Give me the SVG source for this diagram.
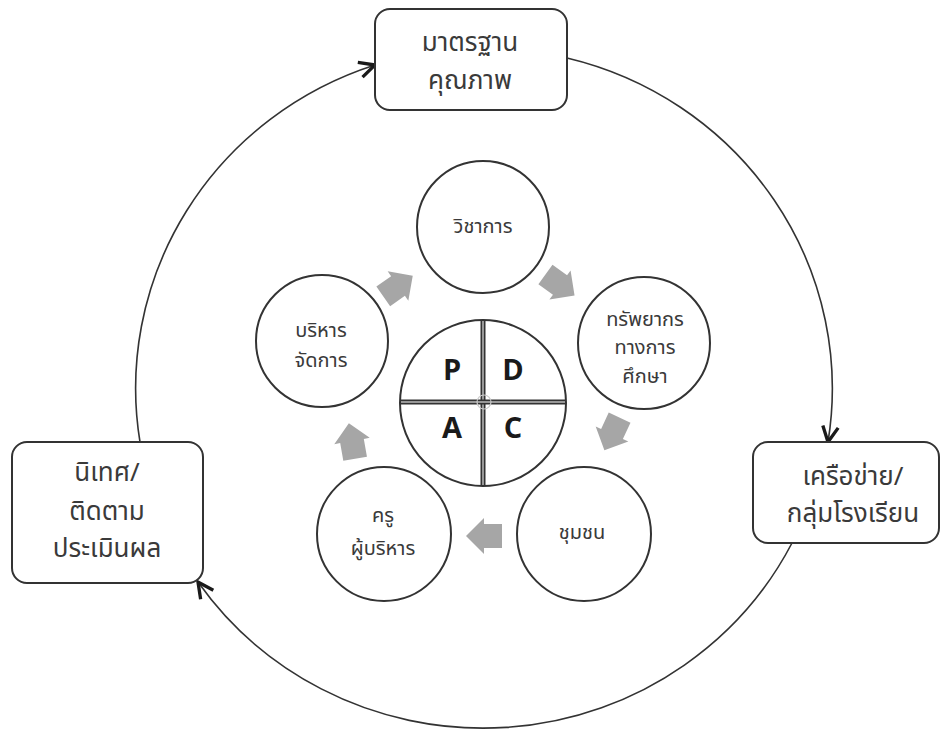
<svg xmlns="http://www.w3.org/2000/svg" width="940" height="731" viewBox="0 0 940 731">
<style>
.box{fill:#fff;stroke:#333;stroke-width:2}
.circ{fill:#fff;stroke:#333;stroke-width:2}
.big{font-family:"Noto Sans Thai","Noto Sans Thai Looped","Noto Sans","DejaVu Sans",sans-serif;font-size:26px;fill:#3a3a3a;text-anchor:middle}
.sm{font-family:"Noto Sans Thai","Noto Sans Thai Looped","Noto Sans","DejaVu Sans",sans-serif;font-size:20px;fill:#3a3a3a;text-anchor:middle}
.pdca{font-family:"Open Sans","Liberation Sans",sans-serif;font-weight:700;font-size:29px;fill:#1a1a1a;text-anchor:middle}
.conn{fill:none;stroke:#333;stroke-width:1.6}
.blk{fill:#a6a6a6}
</style>
<defs>
<marker id="ah" markerUnits="userSpaceOnUse" markerWidth="20" markerHeight="20" viewBox="-1 -1 18 18" refX="15" refY="8" orient="auto">
<path d="M1,1 L15,8 L1,15" fill="none" stroke="#1a1a1a" stroke-width="3"/>
</marker>
<polygon id="blk" class="blk" points="-18,-12 0,-12 0,-18 18,0 0,18 0,12 -18,12"/>
</defs>
<g id="connectors">
<path class="conn" d="M140,442 A347,340 0 0 1 375,65" marker-end="url(#ah)"/>
<path class="conn" d="M567,58 A347,340 0 0 1 828,442" marker-end="url(#ah)"/>
<path class="conn" d="M792,543 A347,340 0 0 1 198,582" marker-end="url(#ah)"/>
</g>
<g id="node-standard">
<rect class="box" x="375" y="9" width="192" height="101" rx="15"/>
<text class="big" x="470" y="51">มาตรฐาน</text>
<text class="big" x="470" y="89">คุณภาพ</text>
</g>
<g id="node-network">
<rect class="box" x="753" y="442" width="186" height="101" rx="15"/>
<text class="big" x="853" y="485">เครือข่าย/</text>
<text class="big" x="853" y="522">กลุ่มโรงเรียน</text>
</g>
<g id="node-supervise">
<rect class="box" x="12" y="442" width="191" height="141" rx="15"/>
<text class="big" x="107" y="481">นิเทศ/</text>
<text class="big" x="107" y="520">ติดตาม</text>
<text class="big" x="107" y="557">ประเมินผล</text>
</g>
<g id="flow-arrows">
<use href="#blk" transform="translate(398,286) rotate(-35)"/>
<use href="#blk" transform="translate(560,285) rotate(36)"/>
<use href="#blk" transform="translate(612,434) rotate(115)"/>
<use href="#blk" transform="translate(484,536) rotate(180)"/>
<use href="#blk" transform="translate(352,441) rotate(-100)"/>
</g>
<g id="node-academic">
<circle class="circ" cx="483" cy="227" r="66"/>
<text class="sm" x="483" y="233">วิชาการ</text>
</g>
<g id="node-resources">
<circle class="circ" cx="644" cy="343" r="66"/>
<text class="sm" x="645" y="326">ทรัพยากร</text>
<text class="sm" x="645" y="354">ทางการ</text>
<text class="sm" x="645" y="383">ศึกษา</text>
</g>
<g id="node-community">
<circle class="circ" cx="584" cy="534" r="67"/>
<text class="sm" x="582" y="539">ชุมชน</text>
</g>
<g id="node-teachers">
<circle class="circ" cx="384" cy="534" r="67"/>
<text class="sm" x="383" y="522">ครู</text>
<text class="sm" x="383" y="555">ผู้บริหาร</text>
</g>
<g id="node-admin">
<circle class="circ" cx="322" cy="341" r="66"/>
<text class="sm" x="321" y="337">บริหาร</text>
<text class="sm" x="321" y="367">จัดการ</text>
</g>
<g id="node-pdca">
<circle class="circ" cx="483" cy="403" r="83"/>
<line x1="483" y1="320" x2="483" y2="486" stroke="#333" stroke-width="5"/>
<line x1="483" y1="321" x2="483" y2="485" stroke="#bbb" stroke-width="1.5"/>
<line x1="400" y1="402" x2="566" y2="402" stroke="#333" stroke-width="5"/>
<line x1="401" y1="402" x2="565" y2="402" stroke="#bbb" stroke-width="1.5"/>
<circle cx="484" cy="402" r="7" fill="none" stroke="#ccc" stroke-width="1.2"/>
<text class="pdca" x="452" y="380">P</text>
<text class="pdca" x="513" y="380">D</text>
<text class="pdca" x="452" y="438">A</text>
<text class="pdca" x="513" y="438">C</text>
</g>
</svg>
